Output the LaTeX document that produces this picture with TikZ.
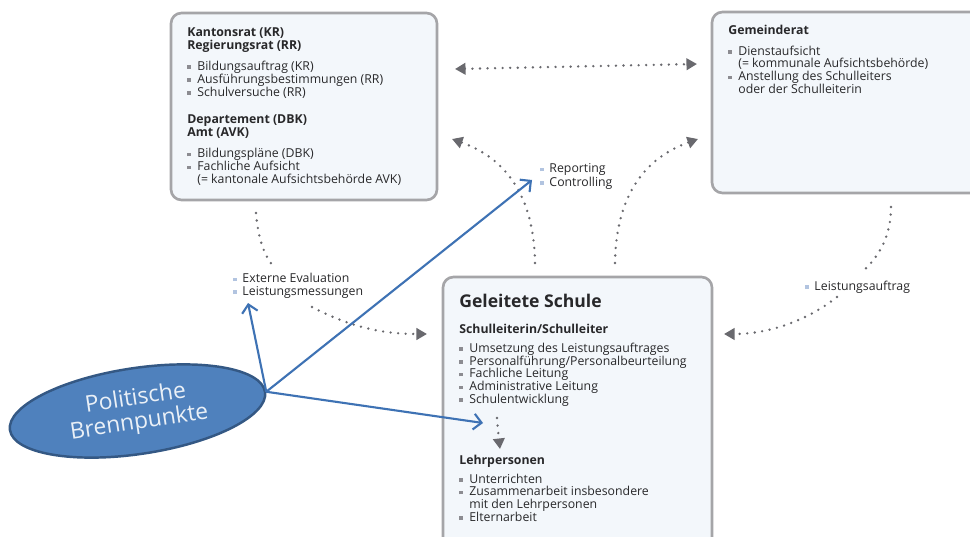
\documentclass[tikz,border=0pt]{standalone}
\usepackage{fontspec}
\setmainfont{Open Sans}
\usepackage{tikz}
\usetikzlibrary{arrows.meta, positioning, fit, shapes.geometric}
\usepackage{xcolor}
\definecolor{boxfill}{RGB}{243,247,251}
\definecolor{boxline}{RGB}{165,165,168}
\definecolor{dotgray}{RGB}{105,105,110}
\definecolor{txtgray}{RGB}{40,40,42}
\definecolor{sqgray}{RGB}{140,140,145}
\definecolor{sqblue}{RGB}{178,196,224}
\definecolor{pblue}{RGB}{62,114,180}
\definecolor{ellfill}{RGB}{79,129,189}
\definecolor{ellline}{RGB}{52,88,132}

\newcommand{\boxsq}{\textcolor{sqgray}{\rule[0.85pt]{2pt}{2pt}}\hspace{3.7pt}}
\newcommand{\lblsq}{\textcolor{sqblue}{\rule[0.85pt]{2pt}{2pt}}\hspace{3.2pt}}
\newcommand{\boxind}{\hspace{5.7pt}}

\tikzset{tri/.tip={Triangle[length=6pt, width=6.5pt]}}

\begin{document}
\begin{tikzpicture}[x=0.02cm, y=-0.02cm,
  every node/.style={font=\fontsize{7pt}{7.3pt}\selectfont, text=txtgray, inner sep=0pt},
  panel/.style={draw=boxline, line width=1.5pt, fill=boxfill, rounded corners=6pt},
  txtblock/.style={anchor=base west, align=left},
  dotline/.style={dotgray, line width=1.5pt, line cap=round, dash pattern=on 0pt off 4.3pt},
  dotarrow/.style={dotline, -tri},
  bluearrow/.style={pblue, line width=1.2pt, -{Straight Barb[length=4.5pt, width=9pt]}}]

  \clip (0,0) rectangle (970,537);
  \fill[white] (0,0) rectangle (970,537);

  % the three panels
  \node[panel, fit={(171,13) (437,200)}] (kanton) {};
  \node[panel, fit={(712,12) (990,193)}] (gemeinde) {};
  \node[panel, fit={(443,277) (712,560)}] (schule) {};

  % canton panel (base = last line)
  \node[txtblock] (kantontxt) at (187,183.5)
       {{\bfseries Kantonsrat (KR)}\\
        {\bfseries Regierungsrat (RR)}\\[4.7pt]
        \boxsq Bildungsauftrag (KR)\\
        \boxsq Ausführungsbestimmungen (RR)\\
        \boxsq Schulversuche (RR)\\[8.6pt]
        {\bfseries Departement (DBK)}\\
        {\bfseries Amt (AVK)}\\[4.7pt]
        \boxsq Bildungspläne (DBK)\\
        \boxsq Fachliche Aufsicht\\
        \boxind(= kantonale Aufsichtsbehörde AVK)};

  % municipal panel
  \node[txtblock] (gemeindetxt) at (728,93.5)
       {{\bfseries Gemeinderat}\\[4.3pt]
        \boxsq Dienstaufsicht\\
        \boxind(= kommunale Aufsichtsbehörde)\\
        \boxsq Anstellung des Schulleiters\\
        \boxind oder der Schulleiterin};

  % school panel
  \node[txtblock, font=\fontsize{10pt}{11pt}\selectfont\bfseries] (schuletitle) at (459,307.5)
       {Geleitete Schule};
  \node[txtblock] (leitungtxt) at (459,403.5)
       {{\bfseries Schulleiterin/Schulleiter}\\[3.4pt]
        \boxsq Umsetzung des Leistungsauftrages\\
        \boxsq Personalführung/Personalbeurteilung\\
        \boxsq Fachliche Leitung\\
        \boxsq Administrative Leitung\\
        \boxsq Schulentwicklung};
  \node[txtblock] (lehrtxt) at (459,521.5)
       {{\bfseries Lehrpersonen}\\[3.4pt]
        \boxsq Unterrichten\\
        \boxsq Zusammenarbeit insbesondere\\
        \boxind mit den Lehrpersonen\\
        \boxsq Elternarbeit};

  % labels on the connectors
  \node[txtblock] (repctl) at (540,186.5) {\lblsq Reporting\\[0.6pt]\lblsq Controlling};
  \node[txtblock] (exteval) at (233,295.5) {\lblsq Externe Evaluation\\\lblsq Leistungsmessungen};
  \node[txtblock] (lauftrag) at (805,290.5) {\lblsq Leistungsauftrag};

  % connector ends
  \coordinate (hl) at (455,69);
  \coordinate (hr) at (697,64);
  \coordinate (upl0) at (535,263);
  \coordinate (upl1) at (452,139);
  \coordinate (upr0) at (615,263);
  \coordinate (upr1) at (698,139);
  \coordinate (kt0) at (256,213);
  \coordinate (kt1) at (273,266);
  \coordinate (ev0) at (312,307);
  \coordinate (ev1) at (427,334);
  \coordinate (gm0) at (891,207);
  \coordinate (gm1) at (862,272);
  \coordinate (la0) at (837,297);
  \coordinate (la1) at (724,334);
  \coordinate (in0) at (497,418);
  \coordinate (in1) at (500,449);

  % dotted connectors
  \draw[dotarrow, tri-tri] (hl) -- (hr);
  \draw[dotarrow] (upl0) .. controls (534,195) and (505,158) .. (upl1);
  \draw[dotarrow] (upr0) .. controls (616,195) and (645,158) .. (upr1);
  \draw[dotline] (kt0) .. controls (258,238) and (264,255) .. (kt1);
  \draw[dotarrow] (ev0) .. controls (352,328) and (385,334) .. (ev1);
  \draw[dotline] (gm0) .. controls (891,235) and (880,256) .. (gm1);
  \draw[dotarrow] (la0) .. controls (808,320) and (770,334) .. (la1);
  \draw[dotarrow] (in0) .. controls (498,432) and (499,440) .. (in1);

  % political hot spots
  \node[ellipse, draw=ellline, line width=1.4pt, fill=ellfill, minimum width=5.16cm,
        minimum height=1.72cm, rotate=8.5, align=center, text=white!88!ellfill,
        font=\fontsize{13pt}{14pt}\selectfont] (brenn) at (137.5,411)
       {Politische\\Brennpunkte};

  \coordinate (evtip) at (248,303);
  \coordinate (reptip) at (532,180);
  \coordinate (sltip) at (483,423);
  \draw[bluearrow] (brenn.east) -- (evtip);
  \draw[bluearrow] (brenn.east) -- (reptip);
  \draw[bluearrow] (brenn.east) -- (sltip);
\end{tikzpicture}
\end{document}
